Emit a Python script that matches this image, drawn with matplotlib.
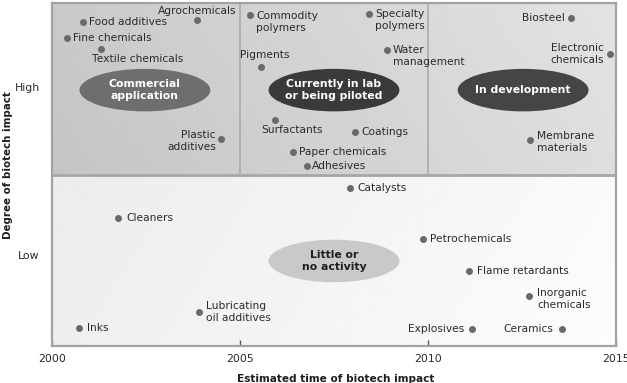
import numpy as np
import matplotlib.pyplot as plt
from matplotlib.patches import Ellipse

# Biotech impact map: when (x, year) and how strongly (y, 0-100) biotech hits each chemical sector

plt.rcParams['font.family'] = ['Liberation Sans Narrow', 'DejaVu Sans']

# -------------------------------------------------------------------------------------------------
# Data
# -------------------------------------------------------------------------------------------------
names = ["Food additives", "Fine chemicals", "Textile chemicals", "Agrochemicals",
         "Plastic\nadditives", "Commodity\npolymers", "Specialty\npolymers", "Water\nmanagement",
         "Pigments", "Surfactants", "Coatings", "Paper chemicals", "Adhesives", "Biosteel",
         "Electronic\nchemicals", "Membrane\nmaterials", "Catalysts", "Cleaners",
         "Lubricating\noil additives", "Inks", "Petrochemicals", "Flame retardants",
         "Inorganic\nchemicals", "Explosives", "Ceramics"]
years = [2000.82, 2000.40, 2001.30, 2003.86, 2004.49, 2005.27, 2008.43, 2008.91,
         2005.56, 2005.93, 2008.06, 2006.41, 2006.78, 2013.80, 2014.84, 2012.71,
         2007.93, 2001.76, 2003.91, 2000.72, 2009.87, 2011.09, 2012.69, 2011.17, 2013.56]
impact = [94.5, 89.8, 86.6, 95.0, 60.3, 96.5, 96.8, 86.3, 81.3, 65.9, 62.4, 56.6, 52.5,
          95.6, 85.1, 60.1, 46.1, 37.3, 9.9, 5.2, 31.2, 21.9, 14.6, 5.0, 5.0]

zone_names = ["Commercial\napplication", "Currently in lab\nor being piloted",
              "In development", "Little or\nno activity"]
zone_years = [2002.47, 2007.50, 2012.53, 2007.50]
zone_impact = [74.6, 74.6, 74.6, 24.8]

year_ticks = [2000, 2005, 2010, 2015]
level_ticks = [75.5, 26.5]
level_labels = ["High", "Low"]

# label offsets in pixels (dx, dy, ha) -- layout only
label_pos = {
    "Food additives": (6, 0, 'left'), "Fine chemicals": (6, 0, 'left'),
    "Textile chemicals": (-9, -10, 'left'), "Agrochemicals": (0, 9, 'center'),
    "Plastic\nadditives": (-5, -2, 'right'), "Commodity\npolymers": (6, -6.5, 'left'),
    "Specialty\npolymers": (6, -6.5, 'left'), "Water\nmanagement": (6, -6.5, 'left'),
    "Pigments": (4, 12, 'center'), "Surfactants": (17, -10, 'center'),
    "Coatings": (6, 0, 'left'), "Paper chemicals": (6, 0, 'left'),
    "Adhesives": (5, 0, 'left'), "Biosteel": (-6, 0, 'right'),
    "Electronic\nchemicals": (-6, 0, 'right'), "Membrane\nmaterials": (7, -2, 'left'),
    "Catalysts": (7, 0, 'left'), "Cleaners": (8, 0, 'left'),
    "Lubricating\noil additives": (7, 0, 'left'), "Inks": (8, 0, 'left'),
    "Petrochemicals": (7, 0, 'left'), "Flame retardants": (8, 0, 'left'),
    "Inorganic\nchemicals": (8, -3, 'left'), "Explosives": (-8, 0, 'right'),
    "Ceramics": (-9, 0, 'right'),
}
zone_fill = ["#6e6e6e", "#3a3a3a", "#454545", "#c9c9c9"]
zone_text = ["white", "white", "white", "#1e1e1e"]

# -------------------------------------------------------------------------------------------------
# Figure
# -------------------------------------------------------------------------------------------------
fig = plt.figure(figsize=(6.27, 3.83), dpi=100)
ax = fig.add_axes([52/627, 37/383, 564/627, 343/383])
ax.set_xlim(2000, 2015)
ax.set_ylim(0, 100)

# shaded panels
gx = np.linspace(0, 1, 200)
gy = np.linspace(0, 1, 50)
GX, GY = np.meshgrid(gx, gy)
upper = 0.77 + 0.10*GX + 0.02*(1 - GY)
lower = 0.925 + 0.055*GX + 0.01*GY
ax.imshow(upper, cmap='gray', vmin=0, vmax=1, extent=[2000, 2015, 50, 100],
          aspect='auto', origin='upper', zorder=0)
ax.imshow(lower, cmap='gray', vmin=0, vmax=1, extent=[2000, 2015, 0, 50],
          aspect='auto', origin='upper', zorder=0)

ax.axhline(50, color='#a5a5a5', lw=2, zorder=1)
for yr in [2005, 2010]:
    ax.plot([yr, yr], [50, 100], color='#ababab', lw=1.2, zorder=1)

for s in ax.spines.values():
    s.set_color('#a3a3a3')
    s.set_linewidth(1.6)

# zones
for zn, zx, zy, fc, tc in zip(zone_names, zone_years, zone_impact, zone_fill, zone_text):
    ax.add_patch(Ellipse((zx, zy), 3.48, 12.4, facecolor=fc, edgecolor='none', zorder=2))
    ax.text(zx, zy, zn, ha='center', va='center', color=tc, fontsize=7.8,
            fontweight='bold', linespacing=1.3, zorder=3)

# sectors
ax.plot(years, impact, 'o', color='#6a6a6a', ms=4, zorder=4)
for nm, x, y in zip(names, years, impact):
    dx, dy, ha = label_pos[nm]
    ax.annotate(nm, (x, y), xytext=(dx, dy), textcoords='offset pixels', ha=ha, va='center',
                multialignment=ha if ha != 'center' else 'center', fontsize=7.7,
                color='#2a2a2a', linespacing=1.25, zorder=5)

ax.set_xticks(year_ticks)
ax.set_xticklabels([str(t) for t in year_ticks], fontsize=7.8, color='#2a2a2a')
ax.tick_params(axis='x', direction='in', length=4, width=1, color='#555555', pad=6)
ax.set_yticks(level_ticks)
ax.set_yticklabels(level_labels, fontsize=7.8, color='#2a2a2a')
ax.tick_params(axis='y', length=0, pad=9)

fig.text(8/627, 1 - 165/383, "Degree of biotech impact", rotation=90, ha='center',
         va='center', fontsize=7.4, fontweight='bold', color='#1e1e1e')
fig.text(336/627, 1 - 379/383, "Estimated time of biotech impact", ha='center',
         va='center', fontsize=7.6, fontweight='bold', color='#1e1e1e')

fig.savefig('out.png', dpi=100)
